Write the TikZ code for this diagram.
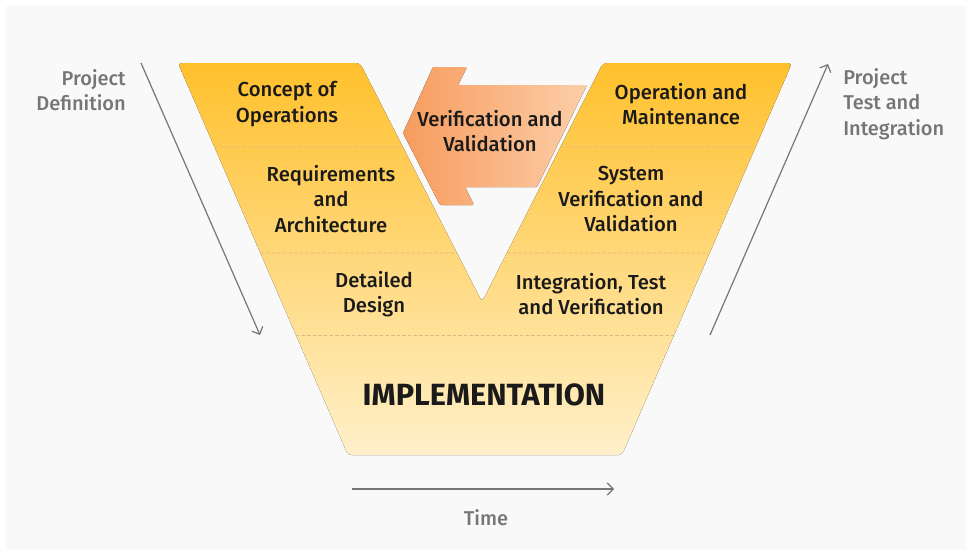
\documentclass[tikz,border=0pt]{standalone}
\usepackage{fontspec}
\setmainfont{Fira Sans}
\newfontfamily\medfont{Fira Sans Medium}
\newfontfamily\boldfont{Fira Sans Bold}
\usetikzlibrary{calc,arrows.meta}

\definecolor{pagebg}{RGB}{249,249,249}
\definecolor{vtop}{RGB}{255,192,44}
\definecolor{vbot}{RGB}{255,240,202}
\definecolor{arrleft}{RGB}{247,156,94}
\definecolor{arrright}{RGB}{252,206,168}
\definecolor{txt}{RGB}{26,26,26}
\definecolor{sidetxt}{RGB}{118,118,118}
\definecolor{dashcol}{RGB}{214,186,128}

\tikzset{
  stage/.style={align=center, text=txt, inner sep=0pt,
    font=\medfont\fontsize{15.2}{18.9}\selectfont},
  sidelbl/.style={text=sidetxt, inner sep=0pt,
    font=\medfont\fontsize{15}{19.1}\selectfont},
  bandline/.style={draw=dashcol, line width=0.6pt, dash pattern=on 2.6pt off 1.6pt},
  flow/.style={draw=sidetxt, line width=0.9pt,
    -{Straight Barb[length=4.5pt,width=9pt,line width=0.9pt]}}
}

\begin{document}
\begin{tikzpicture}[x=0.75pt,y=-0.75pt]
\useasboundingbox (0,0) rectangle (966,550);
\fill[white] (0,0) rectangle (966,550);
\fill[pagebg] (6,6) rectangle (966,550);

% corners of the V
\coordinate (TL) at (178,63);
\coordinate (IL) at (360,63);
\coordinate (N)  at (482,302);
\coordinate (IR) at (603,63);
\coordinate (TR) at (792,63);
\coordinate (BR) at (622,455);
\coordinate (BL) at (348,455);

\fill[top color=vtop, bottom color=vbot, rounded corners=3]
  (TL) -- (IL) -- (N) -- (IR) -- (TR) -- (BR) -- (BL) -- cycle;

% band separators
\draw[bandline] ($(TL)!{84/392}!(BL)$) -- ($(IL)!{84/239}!(N)$);
\draw[bandline] ($(IR)!{84/239}!(N)$) -- ($(TR)!{84/392}!(BR)$);
\draw[bandline] ($(TL)!{190/392}!(BL)$) -- ($(IL)!{190/239}!(N)$);
\draw[bandline] ($(IR)!{190/239}!(N)$) -- ($(TR)!{190/392}!(BR)$);
\draw[bandline] ($(TL)!{272/392}!(BL)$) -- ($(TR)!{272/392}!(BR)$);

% feedback arrow
\fill[left color=arrleft, right color=arrright, rounded corners=1]
  (403,133) -- (433,67) -- (467,67) -- (458,85) -- (587,85) -- (537,187)
  -- (465,187) -- (474,205) -- (440,205) -- cycle;

% stage labels
\node[stage] (conops) at (287,104) {Concept of\\Operations};
\node[stage] (req)    at (331,199) {Requirements\\and\\Architecture};
\node[stage] (dd)     at (374,294) {Detailed\\Design};
\node[stage] (vv)     at (490,131) {Verification and\\Validation};
\node[stage] (om)     at (681,104) {Operation and\\Maintenance};
\node[stage] (svv)    at (631,199) {System\\Verification and\\Validation};
\node[stage] (itv)    at (591,294) {Integration, Test\\and Verification};
\node[text=txt, inner sep=0pt, font=\boldfont\fontsize{23}{27}\selectfont]
  (impl) at (484,395) {IMPLEMENTATION};

% side labels and flow arrows
\node[sidelbl, anchor=east, align=right] (pdef) at (126,90) {Project\\Definition};
\node[sidelbl, anchor=west, align=left] (ptest) at (843,104) {Project\\Test and\\Integration};
\node[sidelbl] (time) at (486,518) {Time};

\coordinate (dstart) at (141,63);
\coordinate (dend)   at (260,335);
\coordinate (ustart) at (710,335);
\coordinate (uend)   at (828,64);
\coordinate (tstart) at (352,489);
\coordinate (tend)   at (614,489);

\draw[flow] (dstart) -- (dend);
\draw[flow] (ustart) -- (uend);
\draw[flow] (tstart) -- (tend);
\end{tikzpicture}
\end{document}
